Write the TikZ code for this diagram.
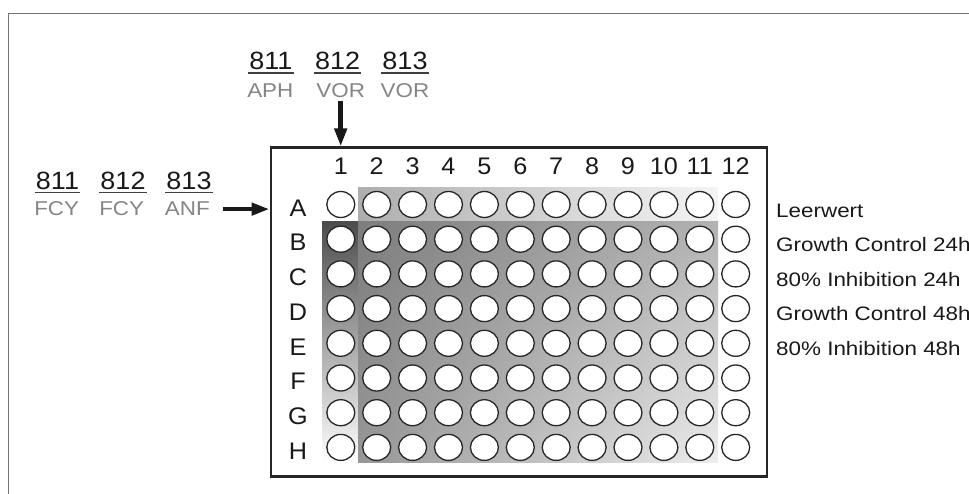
\documentclass[tikz,border=0pt]{standalone}
\usepackage{fontspec}
\setmainfont{Liberation Sans}
\newfontfamily\platefont[FakeStretch=1.05]{Liberation Sans}
\newfontfamily\grayfont[FakeStretch=1.12]{Liberation Sans}
\newfontfamily\sidefont[FakeStretch=1.15]{Liberation Sans}
\newfontfamily\codefont[FakeStretch=1.08]{Liberation Sans}
\usetikzlibrary{shapes.geometric,arrows.meta,shadings}
\tikzset{
  well/.style={ellipse, draw=black!85, line width=1.3pt, fill=white, minimum width=28pt, minimum height=26pt, inner sep=0pt},
  platelbl/.style={font=\platefont\fontsize{24}{25}\selectfont, inner sep=0pt, anchor=base, text=black!90},
  codelbl/.style={font=\codefont\fontsize{25}{26}\selectfont, inner sep=0pt, anchor=base, text=black!90},
  druglbl/.style={font=\grayfont\fontsize{20}{21}\selectfont, inner sep=0pt, anchor=base, text=black!48},
  sidelbl/.style={font=\sidefont\fontsize{19.5}{20}\selectfont, inner sep=0pt, anchor=base west, text=black!90},
  uline/.style={draw=black!75, line width=1.6pt},
  bigarrow/.style={line width=4.5pt, -{Triangle[width=12pt,length=18pt]}, draw=black!90},
  frameline/.style={draw=black!55, line width=1.5pt},
}
\begin{document}
\begin{tikzpicture}[x=1pt,y=-1pt]
\useasboundingbox (0,0) rectangle (969,494);
% outer frame (top and left edge)
\draw[frameline] (8.3,494) -- (8.3,13.3) -- (969,13.3);
% plate
\node[draw=black!85, line width=2.5pt, fill=white, minimum width=496pt, minimum height=328.5pt, inner sep=0pt, anchor=north west] (plate) at (269.5,146.5) {};
% shaded regions
\shade[left color=black!32, right color=black!4] (358,188) rectangle (718,222);
\shade[top color=black!70, middle color=black!52, bottom color=white] (322,222) rectangle (358,462);
\shade[upper left=black!51, upper right=black!30, lower left=black!41, lower right=black!7] (358,222) rectangle (718,462);
% column numbers
\foreach \c in {1,...,12} {
  \node[platelbl] (col\c) at ({340.8+35.9*(\c-1)},175) {\c};
}
% rows and wells
\foreach \r [count=\i from 0] in {A,B,C,D,E,F,G,H} {
  \node[platelbl] (row\r) at (298,{204.5+34.7*\i+11.8}) {\r};
  \foreach \c in {1,...,12} {
    \node[well] (w\r\c) at ({340.8+35.9*(\c-1)},{204.5+34.7*\i}) {};
  }
}
% top labels
\node[codelbl] (t811) at (270.8,70) {811};
\node[codelbl] (t812) at (337.7,70) {812};
\node[codelbl] (t813) at (405,70) {813};
\foreach \n in {t811,t812,t813} {
  \draw[uline] ([xshift=-1pt,yshift=-3.3pt]\n.base west) -- ([xshift=1pt,yshift=-3.3pt]\n.base east);
}
\node[druglbl] (aph) at (270.3,97.3) {APH};
\node[druglbl] (vor1) at (340.7,97.3) {VOR};
\node[druglbl] (vor2) at (405,97.3) {VOR};
\draw[bigarrow] ([yshift=-3pt]vor1.south) -- (vor1.south |- plate.north);
% left labels
\node[codelbl] (l811) at (57.5,190) {811};
\node[codelbl] (l812) at (123,190) {812};
\node[codelbl] (l813) at (189,190) {813};
\foreach \n in {l811,l812,l813} {
  \draw[uline] ([xshift=-1pt,yshift=-2.5pt]\n.base west) -- ([xshift=1pt,yshift=-2.5pt]\n.base east);
}
\node[druglbl] (fcy1) at (56.7,216) {FCY};
\node[druglbl] (fcy2) at (121.7,216) {FCY};
\node[druglbl] (anf) at (187.3,216) {ANF};
\draw[bigarrow] ([xshift=13pt]anf.east) -- (anf.east -| plate.west);
% right labels
\node[sidelbl] (s1) at (776,217.3) {Leerwert};
\node[sidelbl] (s2) at (776,251.8) {Growth Control 24h};
\node[sidelbl] (s3) at (776,286.3) {80\% Inhibition 24h};
\node[sidelbl] (s4) at (776,320.8) {Growth Control 48h};
\node[sidelbl] (s5) at (776,355.3) {80\% Inhibition 48h};
\end{tikzpicture}
\end{document}
